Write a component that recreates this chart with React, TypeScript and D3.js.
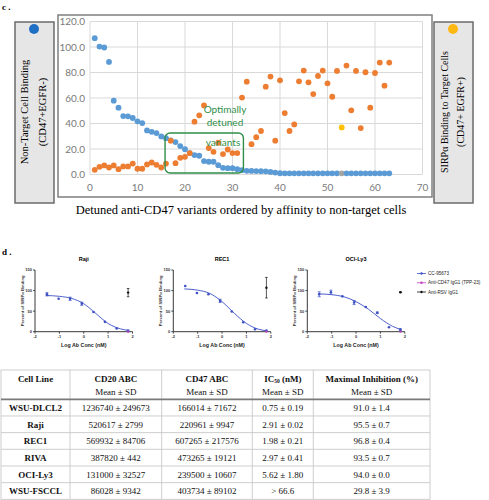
import React from "react";
import * as d3 from "d3";

// ---------- Panel c data ----------
const nonTargetBinding = [
  106.9, 100.3, 99.6, 88.3, 57.9, 52.4, 45.8, 45.6, 44.3, 41.7, 40.3, 34.6, 33.5, 32.5, 29.9, 28.5,
  26.8, 25.4, 22.3, 19.9, 16.8, 15.2, 14.7, 10.5, 10.0, 10.0, 7.3, 5.2, 5.0, 5.0, 4.2, 3.4,
  2.9, 2.8, 2.7, 2.6, 2.5, 2.0, 1.5, 1.0, 0.9, 0.9, 0.9, 0.9, 0.9, 0.9, 0.9, 0.9,
  0.9, 0.9, 0.9, 0.9, 0.9, 0.9, 0.9, 0.9, 0.9, 0.9, 0.9, 0.9, 0.9, 0.9, 0.9,
];
const targetBinding = [
  3.7, 6.0, 7.1, 5.5, 7.1, 4.2, 6.3, 6.3, 8.6, 4.5, 4.5, 7.9, 9.4, 7.6, 5.5, 8.6,
  26.5, 8.9, 13.1, 13.9, 16.8, 41.4, 46.4, 54.2, 20.7, 17.8, 24.9, 16.0, 19.6, 16.8, 16.8, 60.3,
  72.8, 23.8, 29.3, 34.1, 68.9, 76.8, 26.5, 73.9, 48.2, 34.1, 39.3, 73.1, 81.5, 72.3, 63.1, 77.3,
  81.5, 71.5, 61.0, 81.2, 36.9, 85.4, 50.3, 81.2, 36.4, 80.2, 52.4, 79.6, 87.8, 69.7, 87.8,
];
const highlightedVariant = 53;
const cXTicks = [0, 10, 20, 30, 40, 50, 60, 70];
const cYTicks = [0, 20, 40, 60, 80, 100, 120];

// ---------- Panel d data ----------
const logConc = [-1.51, -1.03, -0.56, -0.08, 0.4, 0.87, 1.35, 1.82];
const rajiMean = [91, 80, 80, 68, 48, 24, 8, 2];
const rajiSd = [4, 1, 4, 4, 1, 1, 1, 2];
const rec1Mean = [111, 94, 91, 75, 49, 23, 6, 3];
const rec1Sd = [1, 1, 1, 4, 1, 1, 1, 1];
const ociMean = [91, 96, 86, 71, 60, 46, 11, 5];
const ociSd = [6, 5, 1, 5, 1, 2, 1, 2];

const fitX = [-1.55, -1, -0.5, 0, 0.5, 1, 1.5, 1.85];
const rajiFit = [88, 86, 81, 68, 44, 20, 7, 3];
const rec1Fit = [104, 101, 93, 73, 45, 20, 6, 2];
const ociFit = [92, 90, 85, 73, 55, 32, 13, 5];

const controlConc = 1.82;
const rsvMean = [95, 107, 96];
const rsvSd = [10, 25, 1];
const tpp23Mean = [0, 0, 0];

const dXTicks = [-2, -1, 0, 1, 2];
const dYTicks = [0, 50, 100, 150];
const legendLabels = ["CC-95673", "Anti-CD47 IgG1 (TPP-23)", "Anti-RSV IgG1"];

// ---------- Table data ----------
const cellLines = ["WSU-DLCL2", "Raji", "REC1", "RIVA", "OCI-Ly3", "WSU-FSCCL"];
const cd20Abc = ["1236740 ± 249673", "520617 ± 2799", "569932 ± 84706", "387820 ± 442", "131000 ± 32527", "86028 ± 9342"];
const cd47Abc = ["166014 ± 71672", "220961 ± 9947", "607265 ± 217576", "473265 ± 19121", "239500 ± 10607", "403734 ± 89102"];
const ic50 = ["0.75 ± 0.19", "2.91 ± 0.02", "1.98 ± 0.21", "2.97 ± 0.41", "5.62 ± 1.80", "> 66.6"];
const maxInhibition = ["91.0 ± 1.4", "95.5 ± 0.7", "96.8 ± 0.4", "93.5 ± 0.7", "94.0 ± 0.0", "29.8 ± 3.9"];

const SERIF = "'Liberation Serif', 'Times New Roman', serif";
const SANS = "Arial, 'Liberation Sans', sans-serif";
const CAL = "Lato, 'Open Sans', sans-serif";

const BLUE = "#5b9bd5";
const ORANGE = "#ed7d31";
const CURVE_BLUE = "#3b4fc4";

function PanelC() {
  const x = d3.scaleLinear().domain([0, 70]).range([90, 422.5]);
  const y = d3.scaleLinear().domain([0, 120]).range([174.5, 21.5]);
  const blue = nonTargetBinding.map((v, i) => ({ k: i + 1, v }));
  const orange = targetBinding.map((v, i) => ({ k: i + 1, v }));
  return (
    <g>
      <text x={2} y={10} fontFamily={SERIF} fontSize={9} fontWeight="bold">c .</text>
      {/* left box */}
      <rect x={15} y={22} width={39} height={181} fill="#e7e6e6" stroke="#6b6b6b" strokeWidth={1.5} />
      <circle cx={34} cy={29} r={5} fill="#1f6fc4" />
      <text transform="translate(28,112) rotate(-90)" textAnchor="middle" fontFamily={SERIF} fontSize={10.5}>Non-Target Cell Binding</text>
      <text transform="translate(45.5,112) rotate(-90)" textAnchor="middle" fontFamily={SERIF} fontSize={10.5}>(CD47+EGFR-)</text>
      {/* right box */}
      <rect x={434} y={22} width={39} height={181} fill="#e7e6e6" stroke="#6b6b6b" strokeWidth={1.5} />
      <circle cx={453} cy={29} r={5} fill="#fdb813" />
      <text transform="translate(447.5,112) rotate(-90)" textAnchor="middle" fontFamily={SERIF} fontSize={10}>SIRPα Binding to Target Cells</text>
      <text transform="translate(463.5,112) rotate(-90)" textAnchor="middle" fontFamily={SERIF} fontSize={10}>(CD47+ EGFR+)</text>
      {/* chart frame */}
      <rect x={58} y={15} width={374} height={182} fill="#fff" stroke="#7f7f7f" strokeWidth={1.5} />
      {cYTicks.map((t) => (
        <g key={"gy" + t}>
          <line x1={x(0)} x2={x(70)} y1={y(t)} y2={y(t)} stroke="#d9d9d9" strokeWidth={1} />
          <text x={x(0) - 5} y={y(t) + 3.5} textAnchor="end" fontFamily={CAL} fontSize={10} fill="#7a7a7a">{t.toFixed(1)}</text>
        </g>
      ))}
      {cXTicks.map((t) => (
        <g key={"gx" + t}>
          <line x1={x(t)} x2={x(t)} y1={y(0)} y2={y(120)} stroke="#d9d9d9" strokeWidth={1} />
          <text x={x(t)} y={191} textAnchor="middle" fontFamily={CAL} fontSize={10} fill="#7a7a7a">{t}</text>
        </g>
      ))}
      {blue.map((d) => (
        <circle key={"b" + d.k} cx={x(d.k)} cy={y(d.v)} r={2.9} fill={d.k === highlightedVariant ? "#a5a5a5" : BLUE} />
      ))}
      {orange.map((d) => (
        <circle key={"o" + d.k} cx={x(d.k)} cy={y(d.v)} r={2.9} fill={d.k === highlightedVariant ? "#ffc000" : ORANGE} />
      ))}
      {/* annotation */}
      <rect x={x(15.8)} y={y(32.6)} width={x(32.3) - x(15.8)} height={y(1.2) - y(32.6)} rx={5} fill="none" stroke="#2f8f48" strokeWidth={1.4} />
      <g fontFamily={CAL} fontSize={10} fill="#2f8f48" textAnchor="middle">
        <text x={225} y={113}>Optimally</text>
        <text x={225} y={126}>detuned</text>
        <text x={223} y={146}>variants</text>
      </g>
      <text x={241} y={214} textAnchor="middle" fontFamily={SERIF} fontSize={12.5}>Detuned anti-CD47 variants ordered by affinity to non-target cells</text>
    </g>
  );
}

interface DRProps {
  x0: number;
  title: string;
  mean: number[];
  sd: number[];
  fit: number[];
  rsv: number;
  rsvSd: number;
  tpp: number;
}

function DoseResponse({ x0, title, mean, sd, fit, rsv, rsvSd: rs, tpp }: DRProps) {
  const x = d3.scaleLinear().domain([-2, 2]).range([x0, x0 + 97.5]);
  const y = d3.scaleLinear().domain([0, 150]).range([331.7, 270]);
  const line = d3
    .line<number>()
    .x((_, i) => x(fitX[i]))
    .y((v) => y(v))
    .curve(d3.curveMonotoneX);
  return (
    <g>
      <text x={x(0)} y={261} textAnchor="middle" fontFamily={SANS} fontSize={5.5} fontWeight="bold">{title}</text>
      <text transform={`translate(${x0 - 11.5},${y(75)}) rotate(-90)`} textAnchor="middle" fontFamily={SANS} fontSize={4.2} fontWeight="bold" fill="#333">Percent of SIRPα Binding</text>
      <line x1={x0} x2={x0} y1={y(0)} y2={y(150)} stroke="#222" strokeWidth={0.9} />
      <line x1={x0} x2={x(2)} y1={y(0)} y2={y(0)} stroke="#222" strokeWidth={0.9} />
      {dYTicks.map((t) => (
        <g key={"y" + t}>
          <line x1={x0 - 2} x2={x0} y1={y(t)} y2={y(t)} stroke="#222" strokeWidth={0.8} />
          <text x={x0 - 3} y={y(t) + 1.4} textAnchor="end" fontFamily={SANS} fontSize={4} fontWeight="bold" fill="#333">{t}</text>
        </g>
      ))}
      {dXTicks.map((t) => (
        <g key={"x" + t}>
          <line x1={x(t)} x2={x(t)} y1={y(0)} y2={y(0) + 2} stroke="#222" strokeWidth={0.8} />
          <text x={x(t)} y={y(0) + 6.5} textAnchor="middle" fontFamily={SANS} fontSize={4} fontWeight="bold" fill="#333">{t}</text>
        </g>
      ))}
      <text x={x(0)} y={347} textAnchor="middle" fontFamily={SANS} fontSize={5.3} fontWeight="bold" fill="#222">Log Ab Conc (nM)</text>
      <path d={line(fit) || ""} fill="none" stroke={CURVE_BLUE} strokeWidth={0.9} />
      {mean.map((m, i) => (
        <g key={"p" + i}>
          {sd[i] > 1.5 && (
            <g stroke={CURVE_BLUE} strokeWidth={0.7}>
              <line x1={x(logConc[i])} x2={x(logConc[i])} y1={y(m - sd[i])} y2={y(m + sd[i])} />
              <line x1={x(logConc[i]) - 1.5} x2={x(logConc[i]) + 1.5} y1={y(m - sd[i])} y2={y(m - sd[i])} />
              <line x1={x(logConc[i]) - 1.5} x2={x(logConc[i]) + 1.5} y1={y(m + sd[i])} y2={y(m + sd[i])} />
            </g>
          )}
          <circle cx={x(logConc[i])} cy={y(m)} r={1.3} fill={CURVE_BLUE} />
        </g>
      ))}
      <g stroke="#111" strokeWidth={0.7}>
        <line x1={x(controlConc)} x2={x(controlConc)} y1={y(rsv - rs)} y2={y(rsv + rs)} />
        <line x1={x(controlConc) - 1.3} x2={x(controlConc) + 1.3} y1={y(rsv - rs)} y2={y(rsv - rs)} />
        <line x1={x(controlConc) - 1.3} x2={x(controlConc) + 1.3} y1={y(rsv + rs)} y2={y(rsv + rs)} />
      </g>
      <circle cx={x(controlConc)} cy={y(rsv)} r={1.2} fill="#111" />
      <circle cx={x(controlConc)} cy={y(tpp)} r={1.1} fill="#c23fc2" />
    </g>
  );
}

function PanelD() {
  const legendColors = [CURVE_BLUE, "#c23fc2", "#111"];
  const ly = d3.scalePoint<number>().domain([0, 1, 2]).range([273.5, 292]);
  return (
    <g>
      <text x={2} y={255} fontFamily={SERIF} fontSize={9} fontWeight="bold">d .</text>
      <DoseResponse x0={35} title="Raji" mean={rajiMean} sd={rajiSd} fit={rajiFit} rsv={rsvMean[0]} rsvSd={rsvSd[0]} tpp={tpp23Mean[0]} />
      <DoseResponse x0={173.3} title="REC1" mean={rec1Mean} sd={rec1Sd} fit={rec1Fit} rsv={rsvMean[1]} rsvSd={rsvSd[1]} tpp={tpp23Mean[1]} />
      <DoseResponse x0={307.3} title="OCI-Ly3" mean={ociMean} sd={ociSd} fit={ociFit} rsv={rsvMean[2]} rsvSd={rsvSd[2]} tpp={tpp23Mean[2]} />
      {legendLabels.map((l, i) => (
        <g key={l}>
          <line x1={417} x2={426} y1={ly(i)} y2={ly(i)} stroke={legendColors[i]} strokeWidth={0.8} />
          <circle cx={421.5} cy={ly(i)} r={1.2} fill={legendColors[i]} />
          <text x={428} y={(ly(i) as number) + 1.6} fontFamily={SANS} fontSize={4.6} fill="#222">{l}</text>
        </g>
      ))}
    </g>
  );
}

function Table() {
  const cols = [1, 70, 161.7, 252.3, 313.3, 430];
  const top = 370;
  const headBottom = 399.3;
  const rowH = 16.67;
  const centers = cols.slice(0, -1).map((c, i) => (c + cols[i + 1]) / 2);
  const rows = cellLines.map((c, i) => [c, cd20Abc[i], cd47Abc[i], ic50[i], maxInhibition[i]]);
  const bottom = headBottom + rowH * rows.length;
  return (
    <g fontFamily={SERIF} fontSize={9} fill="#111">
      <rect x={cols[0]} y={top} width={cols[5] - cols[0]} height={bottom - top} fill="#fff" stroke="#c8c8c8" strokeWidth={0.9} />
      {cols.slice(1, -1).map((c) => (
        <line key={c} x1={c} x2={c} y1={top} y2={bottom} stroke="#c8c8c8" strokeWidth={0.9} />
      ))}
      {rows.slice(1).map((_, i) => (
        <line key={i} x1={cols[0]} x2={cols[5]} y1={headBottom + rowH * (i + 1)} y2={headBottom + rowH * (i + 1)} stroke="#c8c8c8" strokeWidth={0.9} />
      ))}
      <line x1={cols[0]} x2={cols[5]} y1={headBottom} y2={headBottom} stroke="#7a7a7a" strokeWidth={1.8} />
      <g fontWeight="bold" textAnchor="middle">
        <text x={centers[0]} y={381.5}>Cell Line</text>
        <text x={centers[1]} y={381.5}>CD20 ABC</text>
        <text x={centers[2]} y={381.5}>CD47 ABC</text>
        <text x={centers[3]} y={381.5}>IC<tspan fontSize={5.5} dy={1.5}>50</tspan><tspan dy={-1.5}> (nM)</tspan></text>
        <text x={centers[4]} y={381.5}>Maximal Inhibition (%)</text>
      </g>
      <g textAnchor="middle">
        {centers.slice(1).map((c) => (
          <text key={c} x={c} y={394.8}>Mean ± SD</text>
        ))}
      </g>
      {rows.map((r, i) => (
        <g key={r[0]} textAnchor="middle">
          {r.map((v, j) => (
            <text key={j} x={centers[j]} y={headBottom + rowH * i + rowH / 2 + 3.2} fontWeight={j === 0 ? "bold" : "normal"}>{v}</text>
          ))}
        </g>
      ))}
    </g>
  );
}

export default function App() {
  return (
    <svg width={489} height={500} style={{ position: "absolute", left: 0, top: 0, background: "#fff" }}>
      <rect width={489} height={500} fill="#fff" />
      <PanelC />
      <PanelD />
      <Table />
    </svg>
  );
}
